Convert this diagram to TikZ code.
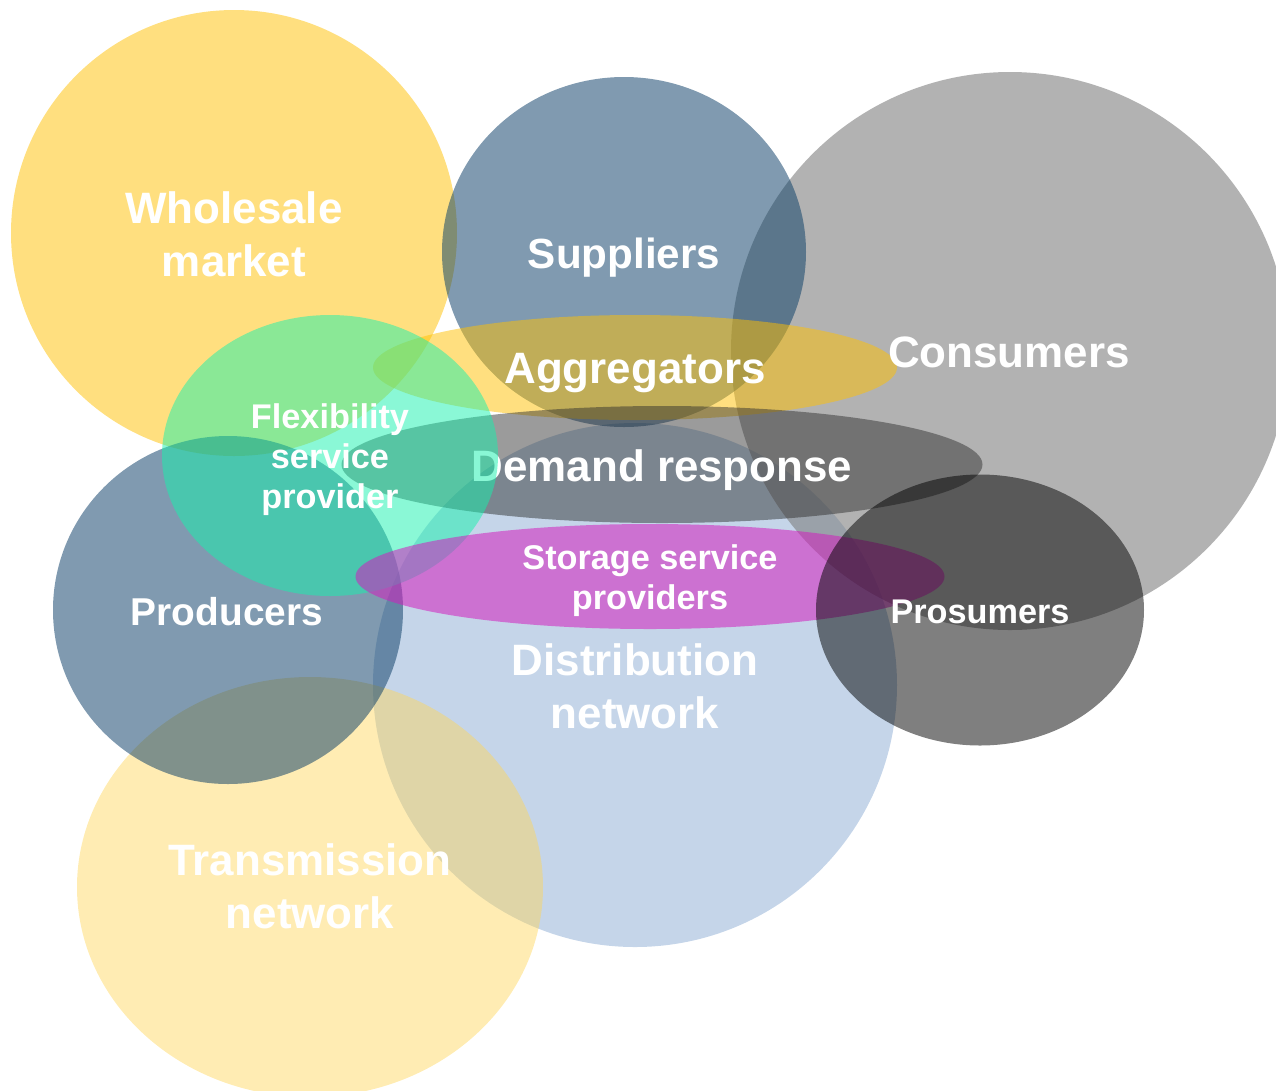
\documentclass[tikz,border=0pt]{standalone}
\usepackage{fontspec}
\setmainfont{Liberation Sans}
\usepackage{tikz}

\definecolor{gold}{HTML}{FFC000}
\definecolor{paleGold}{RGB}{255,213,87}
\definecolor{navy}{RGB}{15,65,105}
\definecolor{skyblue}{HTML}{95B3D7}
\definecolor{midgrey}{RGB}{127,127,127}
\definecolor{darkgrey}{RGB}{45,45,45}
\definecolor{mint}{RGB}{21,241,173}
\definecolor{orchid}{RGB}{210,30,190}

\tikzset{
	bubble/.style 2 args={fill=#1,fill opacity=#2,draw=none},
	biglabel/.style={text=white,align=center,font=\fontsize{25}{30.2}\selectfont\bfseries},
	midlabel/.style={text=white,align=center,font=\fontsize{22.1}{26}\selectfont\bfseries},
	smalllabel/.style={text=white,align=center,font=\fontsize{19.5}{22.8}\selectfont\bfseries},
}

\begin{document}
\begin{tikzpicture}[x=0.02cm,y=-0.02cm]
	\useasboundingbox (0,0) rectangle (1276,1090);
	\clip (0,0) rectangle (1276,1090);
	% market and network circles
	\fill[bubble={gold}{0.5}] (234,233) ellipse [x radius=223,y radius=223];
	\fill[bubble={skyblue}{0.55}] (635,685) ellipse [x radius=262,y radius=262];
	\fill[bubble={midgrey}{0.6}] (1010,351) ellipse [x radius=279,y radius=279];
	\fill[bubble={navy}{0.53}] (624,252) ellipse [x radius=182,y radius=175];
	\fill[bubble={paleGold}{0.45}] (310,887) ellipse [x radius=233,y radius=210];
	\fill[bubble={navy}{0.53}] (228,610) ellipse [x radius=175,y radius=174];
	% flat bands across the middle
	\fill[bubble={gold}{0.5}] (635,367.5) ellipse [x radius=262,y radius=52.5];
	\fill[bubble={darkgrey}{0.48}] (662,464.5) ellipse [x radius=320.5,y radius=58.5];
	\node[biglabel] (demand) at (662,470.5) {Demand response};
	\fill[bubble={mint}{0.5}] (330,455.5) ellipse [x radius=168,y radius=140.5];
	\fill[bubble={orchid}{0.55}] (650,576.5) ellipse [x radius=294.5,y radius=52.5];
	\fill[bubble={black}{0.5}] (980,610) ellipse [x radius=164,y radius=135.5];

	% labels
	\node[biglabel] (wholesale) at (234,234.5) {Wholesale\\market};
	\node[biglabel,font=\fontsize{24}{28}\selectfont\bfseries] (suppliers) at (624,258) {Suppliers};
	\node[biglabel] (consumers) at (1009,352) {Consumers};
	\node[biglabel] (aggregators) at (635,373) {Aggregators};
	\node[smalllabel] (flexibility) at (330,459.5) {Flexibility\\service\\provider};
	\node[smalllabel] (storage) at (650,580.5) {Storage service\\providers};
	\node[midlabel] (producers) at (227,612) {Producers};
	\node[smalllabel] (prosumers) at (980,611.5) {Prosumers};
	\node[biglabel] (distribution) at (635,686.5) {Distribution\\network};
	\node[biglabel] (transmission) at (310,886.5) {Transmission\\network};
\end{tikzpicture}
\end{document}
